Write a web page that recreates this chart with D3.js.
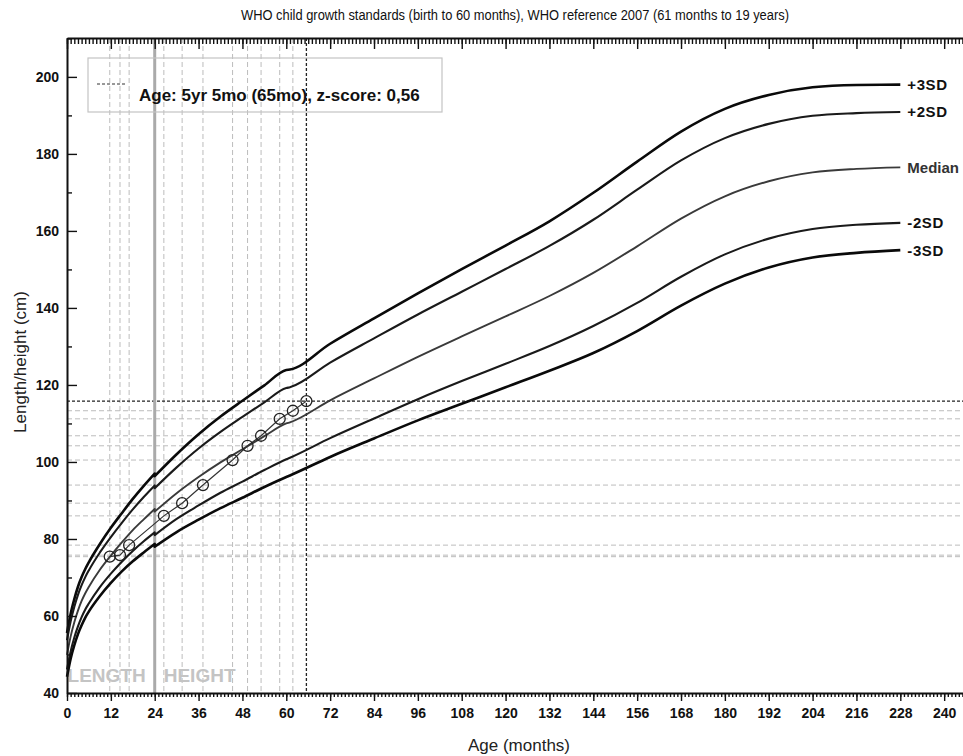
<!DOCTYPE html>
<html>
<head>
<meta charset="utf-8">
<script src="https://cdn.jsdelivr.net/npm/d3@7"></script>
<style>
    body{ margin: 0; background: #fff; }
    svg{ display: block; font-family: Arial, "Liberation Sans", sans-serif; }
    .axis path, .axis line{ stroke: #111; }
    .axis path{ stroke-width: 2; }
    .axis text{ font-size: 14px; font-weight: bold; fill: #111; }
</style>
</head>
<body>
<div id="chart"></div>
<script>
// WHO boys length/height-for-age curves (cm), 24 mo appears twice (length, then height)
const curveAges = [0, 1, 2, 3, 4, 5, 6, 9, 12, 15, 18, 21, 24, 24, 30, 36, 42, 48, 54, 60, 61, 72, 84, 96, 108, 120, 132, 144, 156, 168, 180, 192, 204, 216, 228];
const sdMinus3 = [44.2, 48.9, 52.4, 55.3, 57.6, 59.6, 61.2, 65.2, 68.6, 71.6, 74.2, 76.5, 78.7, 78.0, 81.8, 85.0, 88.0, 90.7, 93.5, 96.1, 96.5, 101.3, 106.1, 110.8, 115.1, 119.4, 123.7, 128.3, 134.0, 140.6, 146.3, 150.5, 153.1, 154.3, 155.0];
const sdMinus2 = [46.1, 50.8, 54.4, 57.3, 59.7, 61.7, 63.3, 67.5, 71.0, 74.1, 76.9, 79.4, 81.7, 81.0, 85.2, 88.7, 92.0, 94.9, 97.9, 100.7, 101.1, 106.2, 111.3, 116.3, 121.0, 125.5, 130.1, 135.3, 141.3, 148.1, 153.9, 158.0, 160.5, 161.6, 162.1];
const median = [49.9, 54.7, 58.4, 61.4, 63.9, 65.9, 67.6, 72.0, 75.7, 79.1, 82.3, 85.1, 87.8, 87.1, 91.9, 96.1, 99.9, 103.3, 106.7, 110.0, 110.3, 116.0, 121.7, 127.3, 132.6, 137.8, 143.1, 149.1, 156.0, 163.2, 169.0, 172.9, 175.2, 176.1, 176.5];
const sdPlus2 = [53.7, 58.6, 62.4, 65.5, 68.0, 70.1, 71.9, 76.5, 80.5, 84.2, 87.7, 90.9, 93.9, 93.2, 98.6, 103.5, 107.8, 111.7, 115.5, 119.2, 119.4, 125.8, 132.1, 138.3, 144.2, 150.1, 156.1, 162.9, 170.7, 178.3, 184.1, 187.8, 189.9, 190.6, 190.9];
const sdPlus3 = [55.6, 60.6, 64.4, 67.6, 70.1, 72.2, 74.0, 78.7, 82.9, 86.7, 90.4, 93.8, 97.0, 96.3, 102.0, 107.2, 111.8, 115.9, 119.9, 123.9, 124.0, 130.7, 137.3, 143.8, 150.1, 156.2, 162.5, 169.9, 178.0, 185.8, 191.7, 195.3, 197.3, 197.9, 198.0];
const curveNames = ["+3SD", "+2SD", "Median", "-2SD", "-3SD"];

// the child's measurements
const visitAges = [11.7, 14.5, 17, 26.5, 31.5, 37.2, 45.3, 49.4, 53.1, 58.2, 61.8, 65.5];
const visitHeights = [75.4, 75.8, 78.4, 86.0, 89.3, 94.0, 100.5, 104.2, 106.8, 111.2, 113.3, 115.8];

const xMajorTicks = d3.range(0, 241, 12);
const yMajorTicks = d3.range(40, 201, 20);

const titleText = "WHO child growth standards (birth to 60 months), WHO reference 2007 (61 months to 19 years)";
const legendText = "Age: 5yr 5mo (65mo), z-score: 0,56";

class GrowthChart{
    constructor(parentSelector){
        this.parent = d3.select(parentSelector);
        this.wSvg = 963;
        this.hSvg = 756;
        this.plot = { left: 67, right: 965, top: 38, bottom: 693 };
        this.init();
    }

    init(){
        this.svg = this.parent.append("svg")
            .attr("width", this.wSvg)
            .attr("height", this.hSvg);

        this.xScale = d3.scaleLinear().domain([0, 245.7]).range([this.plot.left, this.plot.right]);
        this.yScale = d3.scaleLinear().domain([40, 210.1]).range([this.plot.bottom, this.plot.top]);

        this.renderGuides();
        this.renderZoneLabels();
        this.renderCurves();
        this.renderVisits();
        this.renderAxes();
        this.renderTexts();
    }

    renderGuides(){
        const g = this.svg.append("g").classed("guides", true);
        const last = visitAges.length - 1;

        g.selectAll("line.vGuide")
            .data(visitAges)
            .enter().append("line")
                .classed("vGuide", true)
                .attr("x1", d => this.xScale(d)).attr("x2", d => this.xScale(d))
                .attr("y1", this.plot.top).attr("y2", this.plot.bottom)
                .attr("stroke", (d, i) => i === last ? "#222" : "#bcbcbc")
                .attr("stroke-width", (d, i) => i === last ? 1.3 : 1)
                .attr("stroke-dasharray", (d, i) => i === last ? "3,2" : "5,3");

        g.selectAll("line.hGuide")
            .data(visitHeights)
            .enter().append("line")
                .classed("hGuide", true)
                .attr("x1", this.plot.left).attr("x2", this.wSvg)
                .attr("y1", d => this.yScale(d)).attr("y2", d => this.yScale(d))
                .attr("stroke", (d, i) => i === last ? "#222" : "#bcbcbc")
                .attr("stroke-width", (d, i) => i === last ? 1.3 : 1)
                .attr("stroke-dasharray", (d, i) => i === last ? "3,2" : "5,3");

        // length / height switch at 24 months
        g.append("line")
            .attr("x1", this.xScale(24)).attr("x2", this.xScale(24))
            .attr("y1", this.plot.top).attr("y2", this.plot.bottom)
            .attr("stroke", "#aaa")
            .attr("stroke-width", 3);
    }

    renderZoneLabels(){
        const g = this.svg.append("g")
            .attr("font-size", "19px")
            .attr("font-weight", "bold")
            .attr("fill", "#c4c4c4");
        g.append("text")
            .attr("x", this.xScale(24) - 9).attr("y", 682)
            .attr("text-anchor", "end")
            .text("LENGTH");
        g.append("text")
            .attr("x", this.xScale(24) + 9).attr("y", 682)
            .text("HEIGHT");
    }

    curvePath(values){
        // split where the age repeats (length -> height at 24 mo), join pieces with a straight step
        const pieces = [];
        let current = [];
        values.forEach((v, i) => {
            if(i > 0 && curveAges[i] === curveAges[i - 1]){
                pieces.push(current);
                current = [];
            }
            current.push([curveAges[i], v]);
        });
        pieces.push(current);

        const line = d3.line()
            .x(d => this.xScale(d[0]))
            .y(d => this.yScale(d[1]))
            .curve(d3.curveMonotoneX);

        return pieces.map((p, k) => {
            const s = line(p);
            return k ? "L" + s.slice(1) : s;
        }).join("");
    }

    renderCurves(){
        const series = [sdPlus3, sdPlus2, median, sdMinus2, sdMinus3];
        const widths = [2.6, 2.1, 1.9, 2.1, 2.6];
        const colors = ["#0a0a0a", "#1a1a1a", "#3a3a3a", "#1a1a1a", "#0a0a0a"];

        const g = this.svg.append("g").classed("curves", true);
        g.selectAll("path")
            .data(series)
            .enter().append("path")
                .attr("fill", "none")
                .attr("stroke", (d, i) => colors[i])
                .attr("stroke-width", (d, i) => widths[i])
                .attr("stroke-linejoin", "round")
                .attr("d", d => this.curvePath(d));

        g.selectAll("text")
            .data(series)
            .enter().append("text")
                .attr("x", d => this.xScale(curveAges[curveAges.length - 1]) + 7)
                .attr("y", d => this.yScale(d[d.length - 1]))
                .attr("dy", "0.36em")
                .attr("font-size", "15px")
                .attr("font-weight", "bold")
                .attr("letter-spacing", (d, i) => i === 2 ? "0px" : "0.6px")
                .attr("fill", (d, i) => i === 2 ? "#333" : "#111")
                .text((d, i) => curveNames[i]);
    }

    renderVisits(){
        const g = this.svg.append("g").classed("visits", true);
        const line = d3.line()
            .x((d, i) => this.xScale(visitAges[i]))
            .y(d => this.yScale(d));

        g.append("path")
            .attr("fill", "none")
            .attr("stroke", "#333")
            .attr("stroke-width", 1.2)
            .attr("d", line(visitHeights));

        g.selectAll("circle")
            .data(visitHeights)
            .enter().append("circle")
                .attr("cx", (d, i) => this.xScale(visitAges[i]))
                .attr("cy", d => this.yScale(d))
                .attr("r", 5.5)
                .attr("fill", "none")
                .attr("stroke", "#222")
                .attr("stroke-width", 1.3);
    }

    renderAxes(){
        const months = d3.range(0, 246, 1);

        // bottom axis, monthly minor ticks and labelled years
        this.svg.append("g").classed("axis", true)
            .attr("transform", `translate(0, ${this.plot.bottom})`)
            .call(d3.axisBottom(this.xScale).tickValues(months).tickSize(4).tickSizeOuter(0).tickFormat(""));
        this.svg.append("g").classed("axis", true)
            .attr("transform", `translate(0, ${this.plot.bottom})`)
            .call(d3.axisBottom(this.xScale).tickValues(xMajorTicks).tickSize(8).tickSizeOuter(0).tickPadding(7))
            .call(g => g.select(".domain").remove());

        // top frame with inward ticks
        this.svg.append("g").classed("axis", true)
            .attr("transform", `translate(0, ${this.plot.top})`)
            .call(d3.axisBottom(this.xScale).tickValues(months).tickSize(6).tickSizeOuter(0).tickFormat(""));
        this.svg.append("g").classed("axis", true)
            .attr("transform", `translate(0, ${this.plot.top})`)
            .call(d3.axisBottom(this.xScale).tickValues(xMajorTicks).tickSize(11).tickSizeOuter(0).tickFormat(""))
            .call(g => g.select(".domain").remove());

        // left axis, ticks pointing into the plot
        this.svg.append("g").classed("axis", true)
            .attr("transform", `translate(${this.plot.left}, 0)`)
            .call(d3.axisLeft(this.yScale).tickValues(d3.range(50, 211, 20)).tickSize(-5).tickSizeOuter(0).tickFormat(""));
        this.svg.append("g").classed("axis", true)
            .attr("transform", `translate(${this.plot.left}, 0)`)
            .call(d3.axisLeft(this.yScale).tickValues(yMajorTicks).tickSize(-10).tickSizeOuter(0).tickPadding(8))
            .call(g => g.select(".domain").remove());

        this.svg.selectAll(".axis .tick line").attr("stroke-width", 1.4);
    }

    renderTexts(){
        this.svg.append("text")
            .attr("x", 515).attr("y", 20)
            .attr("text-anchor", "middle")
            .attr("font-family", "'Liberation Sans Narrow', 'Arial Narrow', sans-serif")
            .attr("font-size", "14px")
            .attr("textLength", 548)
            .attr("lengthAdjust", "spacingAndGlyphs")
            .attr("fill", "#111")
            .text(titleText);

        // legend box
        const legend = this.svg.append("g").classed("legend", true);
        legend.append("rect")
            .attr("x", 88).attr("y", 58)
            .attr("width", 354).attr("height", 54)
            .attr("fill", "none")
            .attr("stroke", "#c4c4c4")
            .attr("stroke-width", 1.2);
        legend.append("line")
            .attr("x1", 97).attr("x2", 127)
            .attr("y1", 84).attr("y2", 84)
            .attr("stroke", "#333")
            .attr("stroke-dasharray", "3,2");
        legend.append("text")
            .attr("x", 139).attr("y", 101)
            .attr("font-size", "17px")
            .attr("font-weight", "bold")
            .attr("fill", "#111")
            .text(legendText);

        this.svg.append("text")
            .attr("x", 519).attr("y", 751)
            .attr("text-anchor", "middle")
            .attr("font-size", "17px")
            .attr("fill", "#222")
            .text("Age (months)");

        this.svg.append("text")
            .attr("transform", `translate(26, 362) rotate(-90)`)
            .attr("text-anchor", "middle")
            .attr("font-size", "17px")
            .attr("fill", "#222")
            .text("Length/height (cm)");
    }
}

new GrowthChart("#chart");
</script>
</body>
</html>
